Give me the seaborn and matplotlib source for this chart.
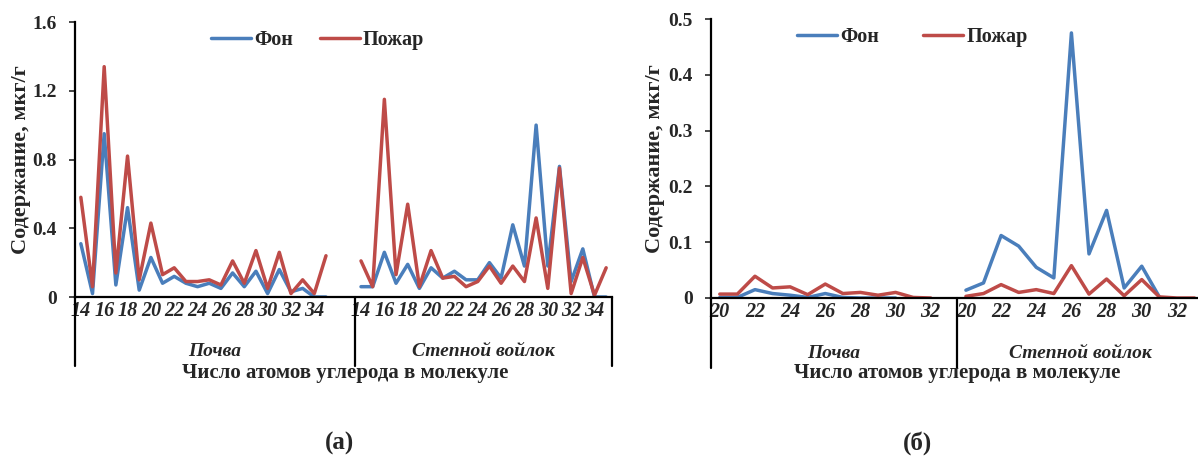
import numpy as np
import pandas as pd
import seaborn as sns
import matplotlib.pyplot as plt

nan = np.nan

# Carbon numbers per group
carbon_a = list(range(14, 36))   # panel (а)
carbon_b = list(range(20, 34))   # panel (б)

groups = ["Почва", "Степной войлок"]
series = ["Фон", "Пожар"]

# Panel (а), мкг/г
a_soil_bg = [0.31, 0.02, 0.95, 0.07, 0.52, 0.04, 0.23, 0.08, 0.12, 0.08, 0.06,
             0.08, 0.05, 0.14, 0.06, 0.15, 0.02, 0.16, 0.03, 0.05, 0.0, 0.0]
a_soil_fire = [0.58, 0.06, 1.34, 0.14, 0.82, 0.10, 0.43, 0.13, 0.17, 0.09, 0.09,
               0.10, 0.07, 0.21, 0.08, 0.27, 0.05, 0.26, 0.02, 0.10, 0.02, 0.24]
a_felt_bg = [0.06, 0.06, 0.26, 0.08, 0.19, 0.05, 0.17, 0.11, 0.15, 0.10, 0.10,
             0.20, 0.11, 0.42, 0.18, 1.00, 0.18, 0.76, 0.09, 0.28, 0.0, 0.0]
a_felt_fire = [0.21, 0.06, 1.15, 0.13, 0.54, 0.06, 0.27, 0.11, 0.12, 0.06, 0.09,
               0.18, 0.08, 0.18, 0.09, 0.46, 0.05, 0.75, 0.02, 0.23, 0.01, 0.17]

# Panel (б), мкг/г
b_soil_bg = [0.001, 0.001, 0.015, 0.008, 0.005, 0.001, 0.008, 0.001, 0.0, 0.0,
             0.0, nan, nan, nan]
b_soil_fire = [0.007, 0.007, 0.039, 0.018, 0.020, 0.006, 0.025, 0.008, 0.010,
               0.005, 0.010, 0.001, 0.0, nan]
b_felt_bg = [0.014, 0.027, 0.112, 0.093, 0.055, 0.036, 0.475, 0.079, 0.157,
             0.018, 0.057, 0.002, nan, nan]
b_felt_fire = [0.003, 0.008, 0.024, 0.010, 0.015, 0.008, 0.058, 0.007, 0.034,
               0.004, 0.033, 0.002, 0.0, 0.0]

colors = {"Фон": "#4a7ebb", "Пожар": "#be4b48"}


def make_frame(carbon, slots, soil_bg, soil_fire, felt_bg, felt_fire):
    rows = []
    data = {("Почва", "Фон"): soil_bg, ("Почва", "Пожар"): soil_fire,
            ("Степной войлок", "Фон"): felt_bg,
            ("Степной войлок", "Пожар"): felt_fire}
    offsets = {"Почва": 0, "Степной войлок": slots[0]}
    for (g, s), vals in data.items():
        for c, v in zip(carbon, vals):
            rows.append({"group": g, "series": s, "carbon": c,
                         "pos": offsets[g] + c - carbon[0], "value": v})
    return pd.DataFrame(rows)


sns.set_style("ticks")
plt.rcParams["font.family"] = ["Liberation Serif", "DejaVu Serif"]
plt.rcParams["font.weight"] = "bold"

fig = plt.figure(figsize=(11.98, 4.61), dpi=100)


def draw_panel(rect, df, slots, carbon, xlim, ymax, yticks, ylabel_x, legend_xy,
               colspace, xlabel_x, tag_x, tag, right_edge=True):
    ax = fig.add_axes(rect)
    sns.lineplot(data=df, x="pos", y="value", hue="series", units="group",
                 estimator=None, palette=colors, hue_order=series,
                 linewidth=2.5, ax=ax)
    ax.set_xlim(*xlim)
    ax.set_ylim(0, ymax)
    ax.set_yticks(yticks)
    ax.set_yticklabels([f"{t:g}" for t in yticks], fontsize=14, fontweight="bold")
    ticks, labels = [], []
    for off in [0, slots[0]]:
        for c in carbon:
            if c % 2 == 0 and c <= carbon[-1] - 1:
                ticks.append(off + c - carbon[0])
                labels.append(str(c))
    ax.set_xticks(ticks)
    ax.set_xticklabels(labels, fontsize=14.5, fontstyle="italic", fontweight="bold")
    ax.tick_params(axis="x", length=0, pad=3)
    ax.tick_params(axis="y", length=4, width=1.2, direction="out", pad=9)
    for sp in ["top", "right"]:
        ax.spines[sp].set_visible(False)
    for sp in ["left", "bottom"]:
        ax.spines[sp].set_linewidth(1.6)
        ax.spines[sp].set_color("black")
    ax.set_xlabel("")
    ax.set_ylabel("Содержание, мкг/г", fontsize=16, fontweight="bold")
    ax.yaxis.set_label_coords(ylabel_x, 0.5)

    tr = ax.get_xaxis_transform()
    edges = [xlim[0], slots[0] - 0.5]
    if right_edge:
        edges.append(xlim[1])
    for e in edges:
        ax.plot([e, e], [0, -0.25], transform=tr, color="black", lw=1.6,
                clip_on=False)
    centers = [(xlim[0] + slots[0] - 0.5) / 2,
               slots[0] - 0.5 + slots[1] / 2]
    for g, cx in zip(groups, centers):
        ax.text(cx, -0.2, g, transform=tr, ha="center", va="center",
                fontsize=14, fontstyle="italic", fontweight="bold")

    handles, labs = ax.get_legend_handles_labels()
    ax.legend(handles, labs, loc="center", bbox_to_anchor=legend_xy, ncol=2,
              frameon=False, handlelength=2.0, handletextpad=0.15,
              columnspacing=colspace, prop={"size": 14.5, "weight": "bold"})

    fig.text(xlabel_x, 0.19, "Число атомов углерода в молекуле", ha="center",
             va="center", fontsize=15, fontweight="bold")
    fig.text(tag_x, 0.039, tag, ha="center", va="center", fontsize=18,
             fontweight="bold")
    return ax


df_a = make_frame(carbon_a, (24, 22), a_soil_bg, a_soil_fire, a_felt_bg, a_felt_fire)
df_b = make_frame(carbon_b, (14, 14), b_soil_bg, b_soil_fire, b_felt_bg, b_felt_fire)

draw_panel([75 / 1198, 164 / 461, 537 / 1198, 275 / 461], df_a, (24, 22),
           carbon_a, (-0.5, 45.5), 1.6, [0, 0.4, 0.8, 1.2, 1.6], -0.082,
           (0.452, 0.935), 1.3, 345 / 1198, 340 / 1198, "(а)")
draw_panel([711 / 1198, 163 / 461, 487 / 1198, 279 / 461], df_b, (14, 14),
           carbon_b, (-0.5, 27.2), 0.5, [0, 0.1, 0.2, 0.3, 0.4, 0.5], -0.094,
           (0.413, 0.936), 2.2, 957 / 1198, 918 / 1198, "(б)", right_edge=False)

fig.savefig("out.png", dpi=100)
